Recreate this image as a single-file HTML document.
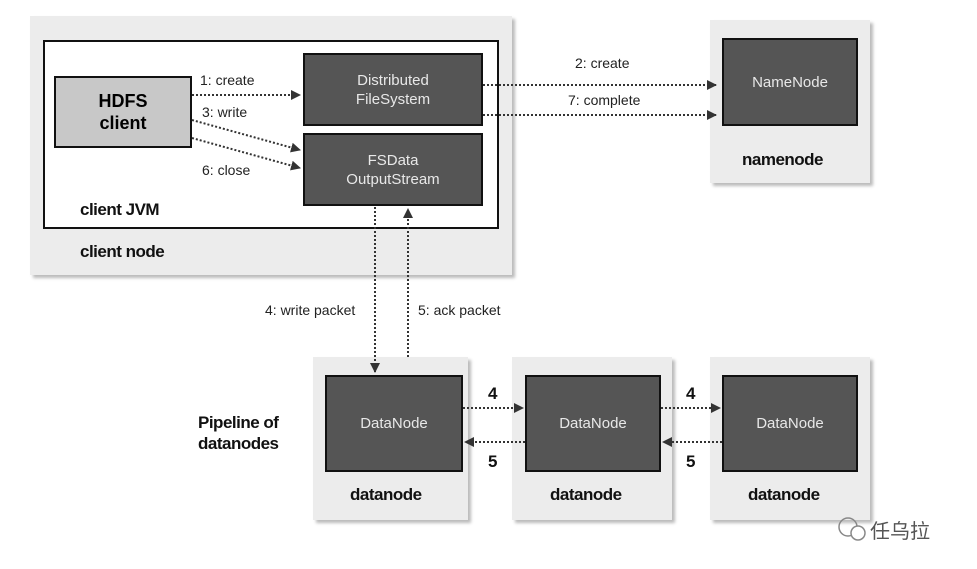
<!DOCTYPE html>
<html><head><meta charset="utf-8"><style>
body{margin:0;width:977px;height:569px;background:#fff;position:relative;overflow:hidden;font-family:"Liberation Sans",sans-serif}
.a{position:absolute}
.reg{position:absolute;background:#ececec;box-shadow:3px 3px 3px #bbb}
.dk{position:absolute;background:#555;border:2px solid #111;color:#e8e8e8;display:flex;align-items:center;justify-content:center;text-align:center;font-size:15px;line-height:19px;box-sizing:border-box}
.lb{position:absolute;font-weight:bold;font-size:17px;color:#111;letter-spacing:-0.5px}
.t{position:absolute;font-size:14px;color:#222}
</style></head><body>
<div class="reg" style="left:30px;top:16px;width:482px;height:259px"></div>
<div class="a" style="left:43px;top:40px;width:452px;height:185px;background:#fff;border:2px solid #111"></div>
<div class="a" style="left:54px;top:76px;width:138px;height:72px;background:#c8c8c8;border:2px solid #111;box-sizing:border-box;display:flex;align-items:center;justify-content:center;text-align:center;font-weight:bold;font-size:18px;line-height:22px">HDFS<br>client</div>
<div class="dk" style="left:303px;top:53px;width:180px;height:73px">Distributed<br>FileSystem</div>
<div class="dk" style="left:303px;top:133px;width:180px;height:73px">FSData<br>OutputStream</div>
<div class="lb" style="left:80px;top:200px">client JVM</div>
<div class="lb" style="left:80px;top:242px">client node</div>

<div class="reg" style="left:710px;top:20px;width:160px;height:163px"></div>
<div class="dk" style="left:722px;top:38px;width:136px;height:88px">NameNode</div>
<div class="lb" style="left:742px;top:150px">namenode</div>

<div class="reg" style="left:313px;top:357px;width:155px;height:163px"></div>
<div class="reg" style="left:512px;top:357px;width:160px;height:163px"></div>
<div class="reg" style="left:710px;top:357px;width:160px;height:163px"></div>
<div class="dk" style="left:325px;top:375px;width:138px;height:97px">DataNode</div>
<div class="dk" style="left:525px;top:375px;width:136px;height:97px">DataNode</div>
<div class="dk" style="left:722px;top:375px;width:136px;height:97px">DataNode</div>
<div class="lb" style="left:350px;top:485px">datanode</div>
<div class="lb" style="left:550px;top:485px">datanode</div>
<div class="lb" style="left:748px;top:485px">datanode</div>
<div class="lb" style="left:198px;top:412px;line-height:21px">Pipeline of<br>datanodes</div>

<div class="t" style="left:200px;top:72px">1: create</div>
<div class="t" style="left:202px;top:104px">3: write</div>
<div class="t" style="left:202px;top:162px">6: close</div>
<div class="t" style="left:575px;top:55px">2: create</div>
<div class="t" style="left:568px;top:92px">7: complete</div>
<div class="t" style="left:265px;top:302px">4: write packet</div>
<div class="t" style="left:418px;top:302px">5: ack packet</div>
<div class="lb" style="left:488px;top:384px">4</div>
<div class="lb" style="left:488px;top:452px">5</div>
<div class="lb" style="left:686px;top:384px">4</div>
<div class="lb" style="left:686px;top:452px">5</div>
<div class="t" style="left:870px;top:515px;font-size:20px;color:#555;font-family:'Liberation Sans','Noto Sans CJK SC',sans-serif">任乌拉</div>

<svg class="a" style="left:0;top:0" width="977" height="569">
<defs><marker id="m" markerWidth="10" markerHeight="10" refX="9" refY="5" orient="auto" markerUnits="userSpaceOnUse"><path d="M0,0L10,5L0,10z" fill="#333"/></marker></defs>
<g stroke="#333" stroke-width="2" stroke-dasharray="2,2" fill="none" marker-end="url(#m)">
<line x1="192" y1="95" x2="300" y2="95"/>
<line x1="192" y1="120" x2="300" y2="150"/>
<line x1="192" y1="138" x2="300" y2="168"/>
<line x1="483" y1="85" x2="716" y2="85"/>
<line x1="483" y1="115" x2="716" y2="115"/>
<line x1="375" y1="207" x2="375" y2="372"/>
<line x1="408" y1="357" x2="408" y2="209"/>
<line x1="463" y1="408" x2="523" y2="408"/>
<line x1="525" y1="442" x2="465" y2="442"/>
<line x1="661" y1="408" x2="720" y2="408"/>
<line x1="722" y1="442" x2="663" y2="442"/>
</g>
<circle cx="848" cy="527" r="9" fill="none" stroke="#888" stroke-width="1.5"/>
<circle cx="858" cy="533" r="7" fill="#fff" stroke="#888" stroke-width="1.5"/>
</svg>
</body></html>
